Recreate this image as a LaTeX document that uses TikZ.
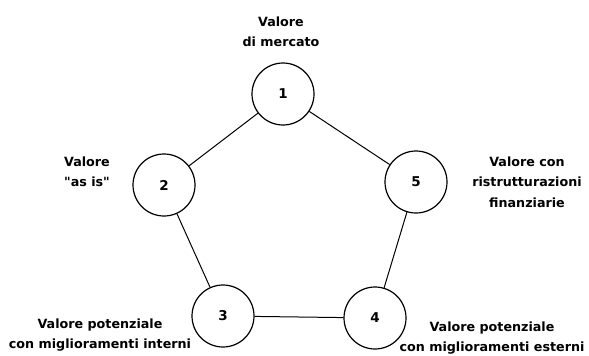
\documentclass[tikz,border=0pt]{standalone}
\usepackage{fontspec}
\setmainfont{DejaVu Sans}[Ligatures=TeXOff]
\begin{document}
\begin{tikzpicture}[x=1pt,y=-1pt,
  stage/.style={circle,draw,line width=1.2pt,minimum size=62pt,inner sep=0pt,font=\fontsize{13.5}{15}\selectfont\bfseries},
  caption/.style={align=center,font=\fontsize{12.7}{20.5}\selectfont\bfseries},
  link/.style={line width=1pt}]
\useasboundingbox (0,0) rectangle (589,356);
% the five valuation stages
\node[stage] (n1) at (283,94) {1};
\node[stage] (n2) at (164,185) {2};
\node[stage] (n5) at (416,182) {5};
\node[stage] (n3) at (223,316) {3};
\node[stage] (n4) at (375,318) {4};
% pentagon edges
\draw[link] (n1) -- (n2);
\draw[link] (n2) -- (n3);
\draw[link] (n3) -- (n4);
\draw[link] (n4) -- (n5);
\draw[link] (n5) -- (n1);
% captions
\node[caption] (c1) at (281,32) {Valore\\di mercato};
\node[caption] (c2) at (87,172) {Valore\\"as is"};
\node[caption] (c5) at (527,182) {Valore con\\ristrutturazioni\\finanziarie};
\node[caption] (c3) at (100,335) {Valore potenziale\\con miglioramenti interni};
\node[caption] (c4) at (492,338) {Valore potenziale\\con miglioramenti esterni};
\end{tikzpicture}
\end{document}
